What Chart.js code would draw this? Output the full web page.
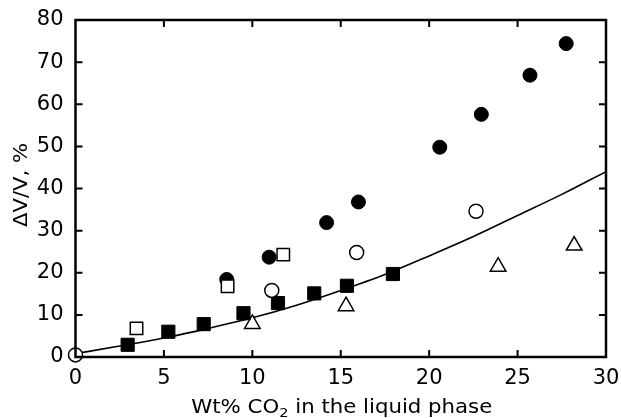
<!DOCTYPE html>
<html>
<head>
<meta charset="utf-8">
<script src="https://cdn.jsdelivr.net/npm/chart.js@4.4.1/dist/chart.umd.min.js"></script>
<style>
  html, body { margin: 0; padding: 0; background: #fff; }
  #wrap { width: 621px; height: 418px; }
</style>
</head>
<body>
<div id="wrap"><canvas id="swell-chart"></canvas></div>
<script>
// swelling vs CO2 content, several data sets plus fitted curve
const filledCircleX = [8.55, 10.95, 14.2, 16.0, 20.6, 22.95, 25.7, 27.75];
const filledCircleY = [18.4, 23.7, 31.9, 36.8, 49.8, 57.6, 66.9, 74.4];

const openCircleX = [0, 11.1, 15.9, 22.65];
const openCircleY = [0.5, 15.8, 24.8, 34.6];

const filledSquareX = [2.95, 5.25, 7.25, 9.5, 11.45, 13.5, 15.35, 17.95];
const filledSquareY = [2.9, 6.0, 7.8, 10.4, 12.8, 15.1, 16.9, 19.7];

const openSquareX = [3.45, 8.6, 11.75];
const openSquareY = [6.8, 16.8, 24.3];

const triangleX = [10.0, 15.3, 23.9, 28.2];
const triangleY = [7.85, 12.05, 21.45, 26.45];

const fitX = [0, 2.5, 5, 7.5, 10, 12.5, 15, 17.5, 20, 22.5, 25, 27.5, 30];
const fitY = [0.8, 2.6, 4.5, 6.8, 9.3, 12.3, 15.8, 19.6, 24.0, 28.6, 33.6, 38.6, 44.0];

const xTicks = [0, 5, 10, 15, 20, 25, 30];
const yTicks = [0, 10, 20, 30, 40, 50, 60, 70, 80];

function pts(xs, ys) {
  return xs.map((x, i) => ({ x: x, y: ys[i] }));
}

const FONT = '"DejaVu Sans", Verdana, sans-serif';

// frame, inward tick marks and the two axis titles
const frameAndTitles = {
  id: 'frameAndTitles',
  afterDraw(chart) {
    const ctx = chart.ctx;
    const a = chart.chartArea;
    const xs = chart.scales.x, ys = chart.scales.y;
    ctx.save();
    ctx.strokeStyle = '#000';
    ctx.lineWidth = 2.5;
    ctx.strokeRect(a.left, a.top, a.right - a.left, a.bottom - a.top);

    ctx.lineWidth = 2;
    ctx.beginPath();
    xTicks.slice(1, -1).forEach(v => {
      const px = xs.getPixelForValue(v);
      ctx.moveTo(px, a.bottom); ctx.lineTo(px, a.bottom - 7);
      ctx.moveTo(px, a.top); ctx.lineTo(px, a.top + 7);
    });
    yTicks.slice(1, -1).forEach(v => {
      const py = ys.getPixelForValue(v);
      ctx.moveTo(a.right, py); ctx.lineTo(a.right - 7, py);
      ctx.moveTo(a.left, py); ctx.lineTo(a.left + 7, py);
    });
    ctx.stroke();

    // x title with subscript
    ctx.fillStyle = '#000';
    ctx.textBaseline = 'alphabetic';
    ctx.textAlign = 'left';
    const big = '19px ' + FONT, small = '13px ' + FONT;
    const p1 = 'Wt% CO', p2 = '2', p3 = ' in the liquid phase';
    ctx.font = big;
    const w1 = ctx.measureText(p1).width, w3 = ctx.measureText(p3).width;
    ctx.font = small;
    const w2 = ctx.measureText(p2).width;
    const sx = 1.12;
    const total = (w1 + w2 + w3) * sx;
    const cx = (a.left + a.right) / 2 + 1;
    ctx.save();
    ctx.translate(cx - total / 2, 413);
    ctx.scale(sx, 1);
    ctx.font = big;
    ctx.fillText(p1, 0, 0);
    ctx.font = small;
    ctx.fillText(p2, w1, 4);
    ctx.font = big;
    ctx.fillText(p3, w1 + w2, 0);
    ctx.restore();

    // y title
    ctx.save();
    ctx.translate(22, 185);
    ctx.rotate(-Math.PI / 2);
    ctx.scale(1.11, 1);
    ctx.font = big;
    ctx.textAlign = 'center';
    ctx.textBaseline = 'middle';
    ctx.fillText('\u0394V/V, %', 0, 0);
    ctx.restore();

    ctx.restore();
  }
};

new Chart(document.getElementById('swell-chart'), {
  type: 'scatter',
  data: {
    datasets: [
      {
        label: 'open squares',
        data: pts(openSquareX, openSquareY),
        pointStyle: 'rect',
        pointRadius: 8.8,
        backgroundColor: '#fff',
        borderColor: '#000',
        borderWidth: 1.5,
        clip: false
      },
      {
        label: 'open circles',
        data: pts(openCircleX, openCircleY),
        pointStyle: 'circle',
        pointRadius: 7,
        backgroundColor: '#fff',
        borderColor: '#000',
        borderWidth: 1.5,
        clip: false
      },
      {
        label: 'filled squares',
        data: pts(filledSquareX, filledSquareY),
        pointStyle: 'rect',
        pointRadius: 9.3,
        backgroundColor: '#000',
        borderColor: '#000',
        borderWidth: 1,
        clip: false
      },
      {
        label: 'triangles',
        data: pts(triangleX, triangleY),
        pointStyle: 'triangle',
        pointRadius: 9,
        backgroundColor: '#fff',
        borderColor: '#000',
        borderWidth: 1.5,
        clip: false
      },
      {
        label: 'filled circles',
        data: pts(filledCircleX, filledCircleY),
        pointStyle: 'circle',
        pointRadius: 7,
        backgroundColor: '#000',
        borderColor: '#000',
        borderWidth: 1,
        clip: false
      },
      {
        type: 'line',
        label: 'fit',
        data: pts(fitX, fitY),
        borderColor: '#000',
        borderWidth: 1.6,
        pointRadius: 0,
        fill: false,
        cubicInterpolationMode: 'monotone'
      }
    ]
  },
  options: {
    responsive: true,
    maintainAspectRatio: false,
    animation: false,
    layout: { padding: { left: 0, right: 15, top: 20, bottom: 0 } },
    plugins: {
      legend: { display: false },
      tooltip: { enabled: false }
    },
    scales: {
      x: {
        type: 'linear',
        min: 0,
        max: 30,
        afterFit: s => { s.height = 61; s.paddingLeft = 0; s.paddingRight = 0; },
        afterBuildTicks: s => { s.ticks = xTicks.map(v => ({ value: v })); },
        grid: { display: false, drawTicks: false },
        border: { display: false },
        ticks: { color: '#000', padding: 9, font: { family: FONT, size: 21 }, maxRotation: 0 }
      },
      y: {
        type: 'linear',
        min: 0,
        max: 80,
        afterFit: s => { s.width = 75.5; s.paddingTop = 0; s.paddingBottom = 0; },
        afterBuildTicks: s => { s.ticks = yTicks.map(v => ({ value: v })); },
        grid: { display: false, drawTicks: false },
        border: { display: false },
        ticks: { color: '#000', padding: 12, font: { family: FONT, size: 21 } }
      }
    }
  },
  plugins: [frameAndTitles]
});
</script>
</body>
</html>
